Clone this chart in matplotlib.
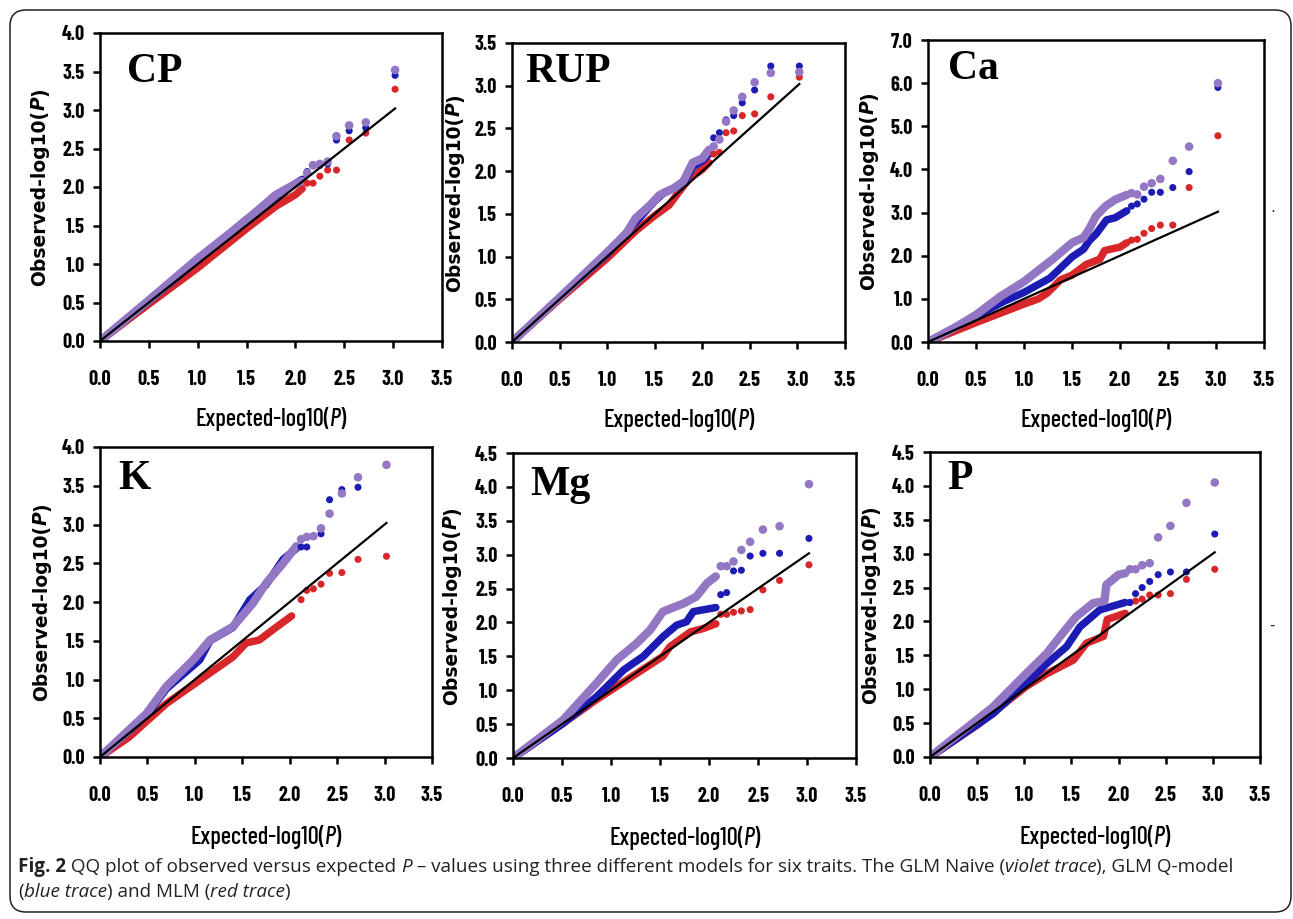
import matplotlib
matplotlib.use("Agg")
import matplotlib.pyplot as plt
from matplotlib.patches import FancyBboxPatch
from matplotlib.transforms import IdentityTransform

# ---------------- data ----------------
TAIL_X = [3.02, 2.72, 2.55, 2.42, 2.33, 2.25, 2.18, 2.12]
REF_END = 3.02
X_TICKS = [0.0, 0.5, 1.0, 1.5, 2.0, 2.5, 3.0, 3.5]

# CP
CP_VIOLET = [(0, 0), (0.5, 0.53), (1.0, 1.07), (1.3, 1.37), (1.5, 1.57), (1.8, 1.9), (2.0, 2.04), (2.07, 2.08)]
CP_BLUE = [(0, 0), (0.5, 0.52), (1.0, 1.05), (1.5, 1.58), (1.8, 1.88), (2.07, 2.1)]
CP_RED = [(0, 0), (0.5, 0.48), (1.0, 0.95), (1.5, 1.46), (1.8, 1.75), (2.0, 1.9), (2.07, 1.98)]
CP_TAIL_VIOLET = [3.52, 2.84, 2.80, 2.66, 2.33, 2.30, 2.28, 2.18]
CP_TAIL_BLUE = [3.45, 2.77, 2.73, 2.61, 2.30, 2.28, 2.29, 2.20]
CP_TAIL_RED = [3.27, 2.70, 2.61, 2.22, 2.22, 2.14, 2.05, 2.05]

# RUP
RUP_VIOLET = [(0, 0), (0.5, 0.52), (1.0, 1.05), (1.2, 1.27), (1.3, 1.45), (1.45, 1.6), (1.55, 1.72),
              (1.7, 1.8), (1.8, 1.88), (1.9, 2.1), (2.0, 2.15), (2.07, 2.25)]
RUP_BLUE = [(0, 0), (0.5, 0.52), (1.0, 1.03), (1.3, 1.4), (1.5, 1.65), (1.6, 1.75), (1.8, 1.85),
            (1.9, 2.05), (2.0, 2.12), (2.07, 2.2)]
RUP_RED = [(0, 0), (0.5, 0.5), (1.0, 0.98), (1.3, 1.3), (1.5, 1.48), (1.65, 1.6), (1.75, 1.75),
           (1.87, 1.92), (2.0, 2.02), (2.07, 2.1)]
RUP_TAIL_VIOLET = [3.16, 3.15, 3.04, 2.87, 2.71, 2.58, 2.37, 2.29]
RUP_TAIL_BLUE = [3.23, 3.23, 2.95, 2.80, 2.65, 2.60, 2.45, 2.39]
RUP_TAIL_RED = [3.10, 2.87, 2.67, 2.65, 2.47, 2.45, 2.22, 2.20]

# Ca
CA_VIOLET = [(0, 0), (0.3, 0.36), (0.5, 0.63), (0.75, 1.05), (1.0, 1.4), (1.3, 1.92), (1.5, 2.3),
             (1.62, 2.42), (1.68, 2.62), (1.75, 2.92), (1.85, 3.15), (1.95, 3.3), (2.07, 3.41)]
CA_BLUE = [(0, 0), (0.5, 0.6), (0.8, 0.95), (1.0, 1.15), (1.27, 1.48), (1.5, 1.97), (1.62, 2.15),
           (1.68, 2.35), (1.75, 2.5), (1.86, 2.83), (1.95, 2.88), (2.07, 3.04)]
CA_RED = [(0, 0), (0.5, 0.45), (1.0, 0.88), (1.15, 1.0), (1.24, 1.13), (1.38, 1.44), (1.5, 1.55),
          (1.65, 1.8), (1.79, 1.92), (1.84, 2.12), (2.0, 2.2), (2.07, 2.3)]
CA_TAIL_VIOLET = [6.0, 4.53, 4.2, 3.78, 3.68, 3.6, 3.42, 3.45]
CA_TAIL_BLUE = [5.9, 3.95, 3.58, 3.47, 3.47, 3.31, 3.2, 3.15]
CA_TAIL_RED = [4.78, 3.58, 2.71, 2.71, 2.63, 2.52, 2.38, 2.36]

# K
K_VIOLET = [(0, 0), (0.49, 0.56), (0.7, 0.91), (0.98, 1.25), (1.16, 1.51), (1.4, 1.68), (1.61, 1.98),
            (1.75, 2.24), (1.93, 2.5), (2.07, 2.72)]
K_BLUE = [(0, 0), (0.5, 0.55), (0.7, 0.88), (1.05, 1.25), (1.16, 1.5), (1.4, 1.67), (1.58, 2.03),
          (1.75, 2.22), (1.93, 2.55), (2.07, 2.69)]
K_RED = [(0, 0), (0.3, 0.25), (0.7, 0.69), (1.05, 0.99), (1.4, 1.29), (1.54, 1.47), (1.68, 1.51),
         (1.82, 1.64), (2.02, 1.82)]
K_TAIL_VIOLET = [3.77, 3.61, 3.40, 3.14, 2.95, 2.85, 2.84, 2.81]
K_TAIL_BLUE = [3.77, 3.48, 3.45, 3.32, 2.88, 2.85, 2.71, 2.71]
K_TAIL_RED = [2.59, 2.55, 2.38, 2.37, 2.23, 2.17, 2.15, 2.03]

# Mg
MG_VIOLET = [(0, 0), (0.51, 0.56), (0.85, 1.1), (1.06, 1.45), (1.26, 1.69), (1.4, 1.89), (1.53, 2.16),
             (1.74, 2.28), (1.87, 2.38), (1.98, 2.58), (2.07, 2.68)]
MG_BLUE = [(0, 0), (0.51, 0.51), (0.85, 0.9), (1.13, 1.3), (1.33, 1.5), (1.53, 1.79), (1.67, 1.96),
           (1.77, 2.01), (1.84, 2.16), (2.07, 2.22)]
MG_RED = [(0, 0), (0.5, 0.5), (0.85, 0.86), (1.19, 1.18), (1.53, 1.5), (1.6, 1.64), (1.81, 1.86),
          (1.94, 1.91), (2.07, 1.98)]
MG_TAIL_VIOLET = [4.04, 3.42, 3.37, 3.19, 3.07, 2.90, 2.83, 2.83]
MG_TAIL_BLUE = [3.24, 3.02, 3.02, 2.98, 2.77, 2.76, 2.44, 2.41]
MG_TAIL_RED = [2.85, 2.62, 2.48, 2.19, 2.17, 2.15, 2.12, 2.12]

# P
P_VIOLET = [(0, 0), (0.67, 0.74), (1.02, 1.23), (1.24, 1.53), (1.38, 1.78), (1.55, 2.07), (1.73, 2.27),
            (1.85, 2.3), (1.87, 2.54), (2.0, 2.69), (2.07, 2.71)]
P_BLUE = [(0, 0), (0.67, 0.64), (1.02, 1.09), (1.24, 1.38), (1.45, 1.63), (1.59, 1.92), (1.8, 2.17),
          (2.07, 2.28)]
P_RED = [(0, 0), (0.5, 0.47), (1.02, 1.04), (1.24, 1.23), (1.52, 1.43), (1.66, 1.68), (1.84, 1.78),
         (1.88, 2.03), (2.07, 2.12)]
P_TAIL_VIOLET = [4.05, 3.75, 3.41, 3.24, 2.86, 2.83, 2.77, 2.77]
P_TAIL_BLUE = [3.29, 2.73, 2.73, 2.69, 2.59, 2.50, 2.41, 2.28]
P_TAIL_RED = [2.77, 2.62, 2.41, 2.39, 2.39, 2.33, 2.30, 2.28]

PANEL_NAMES = ["CP", "RUP", "Ca", "K", "Mg", "P"]
PANEL_YMAX = [4.0, 3.5, 7.0, 4.0, 4.5, 4.5]
PANEL_YSTEP = [0.5, 0.5, 1.0, 0.5, 0.5, 0.5]

# ---------------- styling / layout ----------------
W, H = 1293, 919
VIOLET = "#9477c4"
BLUE = "#1c1cb4"
RED = "#d8272a"

# axes boxes in pixels: left, right, top, bottom
BOXES = [(100, 442, 33, 341), (512, 845, 43, 342), (928, 1264, 40, 342),
         (100, 432, 447, 757), (513, 856, 453, 758), (930, 1260, 452, 757)]
YLABEL_X = [38, 453, 867, 40, 450, 869]
LABEL_POS = [(127, 82), (525, 82), (948, 79), (118, 489), (530, 495), (947, 489)]

fig = plt.figure(figsize=(W / 100, H / 100), dpi=100)
fig.patch.set_facecolor("white")
ident = IdentityTransform()


def px(x, y):
    return x, H - y


def seg_text(parts, x, y, rotation=0, center=False, va="baseline", fit_width=None, **common):
    """Draw consecutive text pieces (with different styles) starting at pixel x,y.
    A piece may carry '_dx', an extra advance (pixels) applied before it."""
    renderer = fig.canvas.get_renderer()
    texts, shifts = [], []
    for s, props in parts:
        kw = dict(common)
        props = dict(props)
        shifts.append(props.pop("_dx", 0))
        kw.update(props)
        t = fig.text(0, 0, s, transform=ident, rotation=rotation, va=va,
                     ha="left", rotation_mode="anchor", **kw)
        texts.append(t)

    def measure():
        ws = []
        for t in texts:
            bb = t.get_window_extent(renderer)
            ws.append(bb.width if rotation == 0 else bb.height)
        return ws

    widths = measure()
    if fit_width is not None:
        scale = fit_width / (sum(widths) + sum(shifts))
        for t in texts:
            t.set_fontsize(t.get_fontsize() * scale)
        widths = measure()
    total = sum(widths) + sum(shifts)
    X, Y = px(x, y)
    cur = (X if rotation == 0 else Y) - (total / 2 if center else 0)
    for t, w, d in zip(texts, widths, shifts):
        cur += d
        t.set_position((cur, Y) if rotation == 0 else (X, cur))
        cur += w


panel_series = [
    (CP_VIOLET, CP_BLUE, CP_RED, CP_TAIL_VIOLET, CP_TAIL_BLUE, CP_TAIL_RED),
    (RUP_VIOLET, RUP_BLUE, RUP_RED, RUP_TAIL_VIOLET, RUP_TAIL_BLUE, RUP_TAIL_RED),
    (CA_VIOLET, CA_BLUE, CA_RED, CA_TAIL_VIOLET, CA_TAIL_BLUE, CA_TAIL_RED),
    (K_VIOLET, K_BLUE, K_RED, K_TAIL_VIOLET, K_TAIL_BLUE, K_TAIL_RED),
    (MG_VIOLET, MG_BLUE, MG_RED, MG_TAIL_VIOLET, MG_TAIL_BLUE, MG_TAIL_RED),
    (P_VIOLET, P_BLUE, P_RED, P_TAIL_VIOLET, P_TAIL_BLUE, P_TAIL_RED),
]

TICK_FONT = dict(family=["Barlow Condensed", "Roboto Condensed", "DejaVu Sans"], weight="bold", size=14.5)

for i, (name, ymax, ystep, box) in enumerate(zip(PANEL_NAMES, PANEL_YMAX, PANEL_YSTEP, BOXES)):
    l, r, t, b = box
    ax = fig.add_axes([l / W, 1 - b / H, (r - l) / W, (b - t) / H])
    ax.set_xlim(0, 3.5)
    ax.set_ylim(0, ymax)
    vio, blu, red, tv, tb, tr = panel_series[i]
    for dense, tail, col, s, lw in ((red, tr, RED, 26, 5.4), (blu, tb, BLUE, 26, 5.4),
                                    (vio, tv, VIOLET, 38, 6.0)):
        xs = [p[0] for p in dense]
        ys = [p[1] for p in dense]
        ax.plot(xs, ys, color=col, lw=lw, solid_capstyle="round", solid_joinstyle="round", zorder=2)
        ax.scatter(TAIL_X, tail, s=s, color=col, edgecolors="none", zorder=3)
    ax.plot([0, REF_END], [0, REF_END], color="black", lw=1.6, zorder=4)

    ax.set_xticks(X_TICKS)
    ax.set_xticklabels([f"{v:.1f}" for v in X_TICKS], fontdict=TICK_FONT)
    nstep = int(round(ymax / ystep))
    yt = [k * ystep for k in range(nstep + 1)]
    ax.set_yticks(yt)
    ax.set_yticklabels([f"{v:.1f}" for v in yt], fontdict=TICK_FONT)
    ax.tick_params(axis="x", direction="out", length=5, width=1.8, pad=16, colors="black")
    ax.tick_params(axis="y", direction="out", length=5, width=1.8, pad=6, colors="black")
    for sp in ax.spines.values():
        sp.set_linewidth(1.8)
        sp.set_color("black")

    # panel label
    lx, ly = LABEL_POS[i]
    fig.text(*px(lx, ly), name, transform=ident, family=["Liberation Serif", "DejaVu Serif"],
             weight="bold", size=30, ha="left", va="baseline")

    # y label
    seg_text([("Observed-log10(", {}), ("P", {"style": "italic"}), (")", {})],
             YLABEL_X[i] + 7, (t + b) / 2, rotation=90, center=True, va="baseline",
             family=["DejaVu Sans"], weight="bold", size=13.5, color="black")

    # x label
    xl_y = b + 85 if i < 3 else b + 87
    seg_text([("Expected-log10(", {}), ("P", {"style": "italic", "_dx": -1.5}), (")", {})],
             (l + r) / 2, xl_y, center=True, va="baseline", fit_width=151,
             family=["Barlow Condensed", "Roboto Condensed", "DejaVu Sans"], weight="medium",
             size=16, color="black")

# outer rounded frame
frame = FancyBboxPatch((10, 7), 1281, 902, boxstyle="round,pad=0,rounding_size=16",
                       transform=ident, fill=False, edgecolor="#222222", lw=1.1)
fig.patches.append(frame)

# small stray marks present in the reference
fig.text(*px(1273, 213), "·", transform=ident, size=11, ha="center", va="center", color="#333333")
fig.text(*px(1272, 625), "-", transform=ident, size=11, ha="center", va="center", color="#333333")

# caption
CAP = dict(family=["Open Sans", "DejaVu Sans"], size=13, color="#222222")
line1 = [("Fig. 2", {"weight": "bold"}),
         (" QQ plot of observed versus expected ", {}),
         ("P", {"style": "italic"}),
         (" \u2013 values using three different models for six traits. The GLM Naive (", {}),
         ("violet trace", {"style": "italic"}),
         ("), GLM Q-model", {})]
seg_text(line1, 18, 872, fit_width=1210, **CAP)
cap_size = fig.texts[-1].get_fontsize()
CAP["size"] = cap_size
seg_text([("(", {}),
          ("blue trace", {"style": "italic"}),
          (") and MLM (", {}),
          ("red trace", {"style": "italic"}),
          (")", {})],
         18, 897, **CAP)

fig.savefig("out.png", dpi=100, facecolor="white")
